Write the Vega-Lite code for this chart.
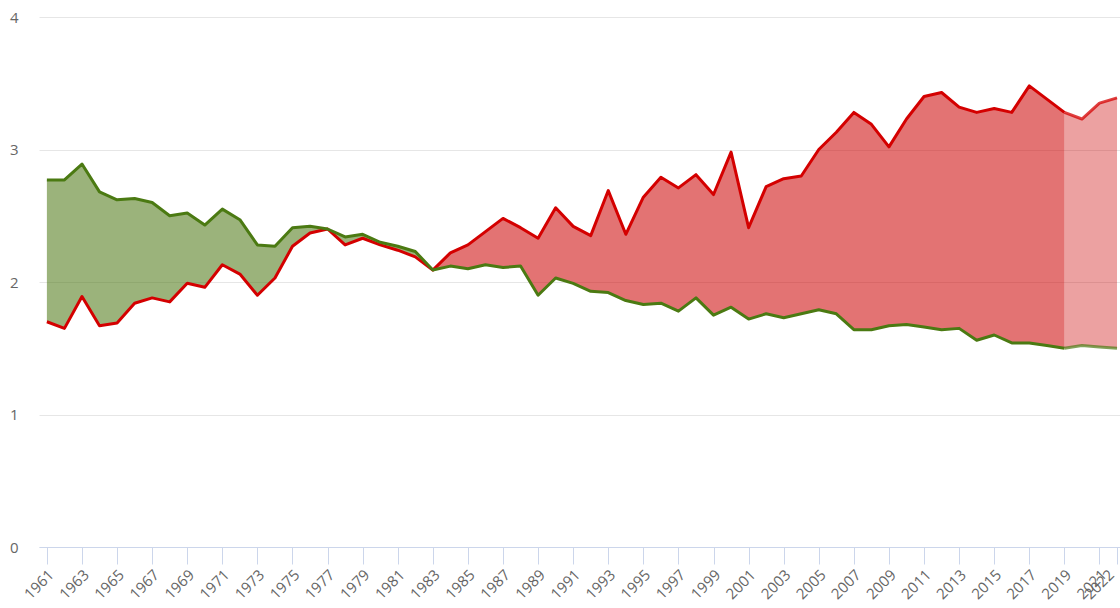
{
  "$schema": "https://vega.github.io/schema/vega-lite/v6.json",
  "width": 1081,
  "height": 530,
  "autosize": {"type": "none"},
  "padding": {"left": 39, "top": 17, "right": 0, "bottom": 61},
  "background": "white",
  "config": {
    "view": {"stroke": null},
    "font": "Open Sans",
    "axis": {"labelFont": "Open Sans", "labelColor": "#666666"}
  },
  "data": {
    "values": [
      {"year": 1961, "g": 2.77, "r": 1.70},
      {"year": 1962, "g": 2.77, "r": 1.65},
      {"year": 1963, "g": 2.89, "r": 1.89},
      {"year": 1964, "g": 2.68, "r": 1.67},
      {"year": 1965, "g": 2.62, "r": 1.69},
      {"year": 1966, "g": 2.63, "r": 1.84},
      {"year": 1967, "g": 2.60, "r": 1.88},
      {"year": 1968, "g": 2.50, "r": 1.85},
      {"year": 1969, "g": 2.52, "r": 1.99},
      {"year": 1970, "g": 2.43, "r": 1.96},
      {"year": 1971, "g": 2.55, "r": 2.13},
      {"year": 1972, "g": 2.47, "r": 2.06},
      {"year": 1973, "g": 2.28, "r": 1.90},
      {"year": 1974, "g": 2.27, "r": 2.03},
      {"year": 1975, "g": 2.41, "r": 2.27},
      {"year": 1976, "g": 2.42, "r": 2.37},
      {"year": 1977, "g": 2.40, "r": 2.40},
      {"year": 1978, "g": 2.34, "r": 2.28},
      {"year": 1979, "g": 2.36, "r": 2.33},
      {"year": 1980, "g": 2.30, "r": 2.28},
      {"year": 1981, "g": 2.27, "r": 2.24},
      {"year": 1982, "g": 2.23, "r": 2.19},
      {"year": 1983, "g": 2.09, "r": 2.09},
      {"year": 1984, "g": 2.12, "r": 2.22},
      {"year": 1985, "g": 2.10, "r": 2.28},
      {"year": 1986, "g": 2.13, "r": 2.38},
      {"year": 1987, "g": 2.11, "r": 2.48},
      {"year": 1988, "g": 2.12, "r": 2.41},
      {"year": 1989, "g": 1.90, "r": 2.33},
      {"year": 1990, "g": 2.03, "r": 2.56},
      {"year": 1991, "g": 1.99, "r": 2.42},
      {"year": 1992, "g": 1.93, "r": 2.35},
      {"year": 1993, "g": 1.92, "r": 2.69},
      {"year": 1994, "g": 1.86, "r": 2.36},
      {"year": 1995, "g": 1.83, "r": 2.64},
      {"year": 1996, "g": 1.84, "r": 2.79},
      {"year": 1997, "g": 1.78, "r": 2.71},
      {"year": 1998, "g": 1.88, "r": 2.81},
      {"year": 1999, "g": 1.75, "r": 2.66},
      {"year": 2000, "g": 1.81, "r": 2.98},
      {"year": 2001, "g": 1.72, "r": 2.41},
      {"year": 2002, "g": 1.76, "r": 2.72},
      {"year": 2003, "g": 1.73, "r": 2.78},
      {"year": 2004, "g": 1.76, "r": 2.80},
      {"year": 2005, "g": 1.79, "r": 3.00},
      {"year": 2006, "g": 1.76, "r": 3.13},
      {"year": 2007, "g": 1.64, "r": 3.28},
      {"year": 2008, "g": 1.64, "r": 3.19},
      {"year": 2009, "g": 1.67, "r": 3.02},
      {"year": 2010, "g": 1.68, "r": 3.23},
      {"year": 2011, "g": 1.66, "r": 3.40},
      {"year": 2012, "g": 1.64, "r": 3.43},
      {"year": 2013, "g": 1.65, "r": 3.32},
      {"year": 2014, "g": 1.56, "r": 3.28},
      {"year": 2015, "g": 1.60, "r": 3.31},
      {"year": 2016, "g": 1.54, "r": 3.28},
      {"year": 2017, "g": 1.54, "r": 3.48},
      {"year": 2018, "g": 1.52, "r": 3.38},
      {"year": 2019, "g": 1.50, "r": 3.28},
      {"year": 2020, "g": 1.52, "r": 3.23},
      {"year": 2021, "g": 1.51, "r": 3.35},
      {"year": 2022, "g": 1.50, "r": 3.39}
    ]
  },
  "encoding": {
    "x": {
      "field": "year",
      "type": "quantitative",
      "scale": {"domain": [1960.55, 2022.17], "nice": false, "zero": false},
      "axis": {
        "title": null,
        "values": [1961, 1963, 1965, 1967, 1969, 1971, 1973, 1975, 1977, 1979, 1981, 1983, 1985, 1987, 1989, 1991, 1993, 1995, 1997, 1999, 2001, 2003, 2005, 2007, 2009, 2011, 2013, 2015, 2017, 2019, 2021, 2022],
        "format": "d",
        "labelFontSize": 15,
        "labelAngle": -45,
        "labelAlign": "right",
        "labelBaseline": "top",
        "labelOverlap": false,
        "labelBound": false,
        "labelOffset": {"expr": "datum.value == 2022 ? -11 : -1"},
        "grid": false,
        "domainColor": "#ccd6eb",
        "tickColor": "#ccd6eb",
        "tickSize": 17,
        "labelPadding": 3
      }
    }
  },
  "layer": [
    {
      "transform": [{"filter": "datum.year <= 1983"}],
      "mark": {"type": "area", "color": "#4f7a17", "opacity": 0.57},
      "encoding": {
        "y": {
          "field": "g",
          "type": "quantitative",
          "scale": {"domain": [0, 4], "nice": false},
          "axis": {
            "title": null,
            "values": [0, 1, 2, 3, 4],
            "format": "d",
            "grid": true,
            "gridColor": "#e6e6e6",
            "domain": false,
            "ticks": false,
            "labelPadding": 21,
            "labelFontSize": 15
          }
        },
        "y2": {"field": "r"}
      }
    },
    {
      "transform": [{"filter": "datum.year >= 1983 && datum.year <= 2019"}],
      "mark": {"type": "area", "color": "#cc0000", "opacity": 0.55},
      "encoding": {"y": {"field": "g", "type": "quantitative"}, "y2": {"field": "r"}}
    },
    {
      "transform": [{"filter": "datum.year >= 2019"}],
      "mark": {"type": "area", "color": "#cc0000", "opacity": 0.37},
      "encoding": {"y": {"field": "g", "type": "quantitative"}, "y2": {"field": "r"}}
    },
    {
      "transform": [{"filter": "datum.year <= 2019"}],
      "mark": {"type": "line", "color": "#d40000", "strokeWidth": 3, "strokeJoin": "round"},
      "encoding": {"y": {"field": "r", "type": "quantitative"}}
    },
    {
      "transform": [{"filter": "datum.year >= 2019"}],
      "mark": {"type": "line", "color": "#d40000", "strokeWidth": 3, "opacity": 0.75, "strokeJoin": "round"},
      "encoding": {"y": {"field": "r", "type": "quantitative"}}
    },
    {
      "transform": [{"filter": "datum.year <= 2019"}],
      "mark": {"type": "line", "color": "#4b7a12", "strokeWidth": 3, "strokeJoin": "round"},
      "encoding": {"y": {"field": "g", "type": "quantitative"}}
    },
    {
      "transform": [{"filter": "datum.year >= 2019"}],
      "mark": {"type": "line", "color": "#4b7a12", "strokeWidth": 3, "opacity": 0.7, "strokeJoin": "round"},
      "encoding": {"y": {"field": "g", "type": "quantitative"}}
    }
  ]
}
